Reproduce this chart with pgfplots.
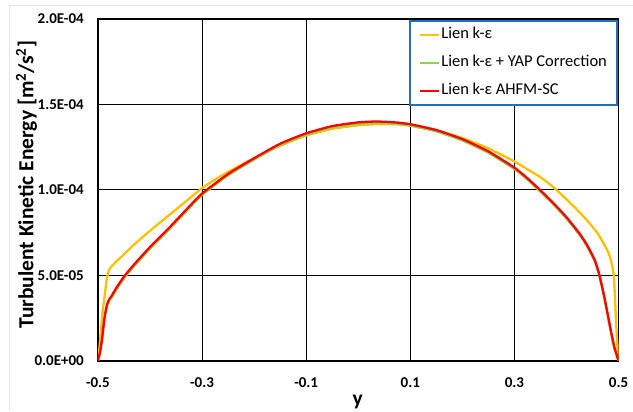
\documentclass[border=0pt]{standalone}
\usepackage{pgfplots}
\pgfplotsset{compat=1.18}
\usepackage{fontspec}
\setmainfont{Carlito}
\definecolor{lorange}{HTML}{FFC000}
\definecolor{lgreen}{HTML}{92D050}
\definecolor{lred}{HTML}{FF0000}
\definecolor{lblue}{HTML}{1F6FBF}
\begin{document}
\begin{tikzpicture}[x=1pt,y=1pt]
\path (0,0) rectangle (633,411);
\draw[gray!20, line width=1pt] (10,0) -- (10,405) -- (633,405);
\begin{axis}[
  at={(98pt,50pt)}, anchor=south west,
  scale only axis, width=521pt, height=342pt,
  xmin=-0.5, xmax=0.5, ymin=0, ymax=2e-4,
  xtick={-0.5,-0.3,-0.1,0.1,0.3,0.5},
  xticklabels={-0.5,-0.3,-0.1,0.1,0.3,0.5},
  ytick={0,5e-5,1e-4,1.5e-4,2e-4},
  yticklabels={0.0E+00,5.0E-05,1.0E-04,1.5E-04,2.0E-04},
  scaled y ticks=false,
  major tick length=0pt,
  grid=major,
  grid style={black, line width=0.8pt},
  axis line style={black, line width=1.8pt},
  ticklabel style={font=\fontsize{15}{17}\selectfont\bfseries, inner sep=0pt},
  xticklabel style={anchor=base, yshift=-27pt},
  yticklabel style={anchor=east, xshift=-14pt},
  xlabel={\bfseries y},
  ylabel={\bfseries Turbulent Kinetic Energy [m\textsuperscript{2}/s\textsuperscript{2}]},
  label style={font=\fontsize{21.5}{24}\selectfont},
  xlabel style={at={(axis description cs:0.499,-0.12)}, anchor=center},
  ylabel style={at={(axis description cs:-0.137,0.515)}, anchor=center, rotate=0},
  legend style={at={(0.9985,0.997)}, anchor=north east, draw=lblue, line width=1.8pt,
    font=\fontsize{16.5}{18}\selectfont, row sep=12pt, inner xsep=9pt, inner ysep=6pt,
    fill=white, cells={anchor=west},
    nodes={inner sep=1pt, text height=11pt, text depth=3pt}},
  legend image code/.code={\draw[#1, line width=2.4pt] (0pt,0pt) -- (19pt,0pt);},
  every axis plot/.append style={line width=2.3pt, smooth, tension=0.3},
  clip=true,
]
\addplot[lorange] coordinates {
(-0.5,0) (-0.497,0.8e-5) (-0.494,1.8e-5) (-0.491,2.9e-5) (-0.4866,3.9e-5) (-0.4833,4.75e-5)
(-0.4795,5.25e-5) (-0.476,5.45e-5) (-0.47,5.65e-5) (-0.4578,6.0e-5) (-0.4322,6.75e-5)
(-0.4002,7.6e-5) (-0.35,8.85e-5) (-0.3,1.01e-4) (-0.275,1.06e-4) (-0.253,1.1e-4)
(-0.2,1.185e-4) (-0.15,1.258e-4) (-0.1,1.318e-4) (-0.05,1.357e-4) (0,1.378e-4)
(0.035,1.384e-4) (0.07,1.384e-4) (0.1,1.376e-4) (0.15,1.347e-4) (0.2,1.303e-4)
(0.25,1.243e-4) (0.3,1.166e-4) (0.35,1.074e-4) (0.375,1.015e-4) (0.4,9.45e-5)
(0.42,8.85e-5) (0.44,8.2e-5) (0.46,7.45e-5) (0.4795,6.4e-5) (0.486,5.8e-5)
(0.491,5.0e-5) (0.493,3.8e-5) (0.495,2.5e-5) (0.497,1.3e-5) (0.5,0)
};
\addlegendentry{Lien k-ε}
\addplot[lgreen] coordinates {
(-0.5,0) (-0.496,0.4e-5) (-0.4923,1.1e-5) (-0.4875,2.35e-5) (-0.4827,3.15e-5) (-0.478,3.52e-5)
(-0.474,3.68e-5) (-0.465,4.12e-5) (-0.455,4.6e-5) (-0.448,4.9e-5) (-0.43,5.55e-5)
(-0.4,6.55e-5) (-0.3656,7.6e-5) (-0.33,8.75e-5) (-0.3,9.7e-5) (-0.25,1.085e-4)
(-0.2,1.177e-4) (-0.15,1.262e-4) (-0.1,1.323e-4) (-0.05,1.365e-4) (0,1.387e-4)
(0.035,1.392e-4) (0.07,1.387e-4) (0.1,1.376e-4) (0.15,1.342e-4) (0.2,1.289e-4)
(0.25,1.217e-4) (0.3,1.122e-4) (0.325,1.06e-4) (0.35,0.989e-4) (0.375,0.914e-4)
(0.4,0.832e-4) (0.425,0.737e-4) (0.44,0.667e-4) (0.455,0.577e-4) (0.4635,0.492e-4)
(0.473,0.362e-4) (0.48,0.252e-4) (0.486,0.157e-4) (0.492,0.072e-4) (0.5,0)
};
\addlegendentry{Lien k-ε + YAP Correction}
\addplot[lred] coordinates {
(-0.5,0) (-0.496,0.5e-5) (-0.4923,1.23e-5) (-0.4875,2.5e-5) (-0.4827,3.27e-5) (-0.478,3.62e-5)
(-0.474,3.78e-5) (-0.465,4.25e-5) (-0.455,4.7e-5) (-0.448,5.0e-5) (-0.43,5.65e-5)
(-0.4,6.65e-5) (-0.3656,7.7e-5) (-0.33,8.85e-5) (-0.3,9.78e-5) (-0.25,1.093e-4)
(-0.2,1.185e-4) (-0.15,1.27e-4) (-0.1,1.331e-4) (-0.05,1.373e-4) (0,1.395e-4)
(0.035,1.4e-4) (0.07,1.395e-4) (0.1,1.384e-4) (0.15,1.35e-4) (0.2,1.297e-4)
(0.25,1.225e-4) (0.3,1.13e-4) (0.325,1.068e-4) (0.35,0.997e-4) (0.375,0.922e-4)
(0.4,0.84e-4) (0.425,0.745e-4) (0.44,0.675e-4) (0.455,0.585e-4) (0.4635,0.5e-4)
(0.473,0.37e-4) (0.48,0.26e-4) (0.486,0.165e-4) (0.492,0.08e-4) (0.5,0)
};
\addlegendentry{Lien k-ε AHFM-SC}
\end{axis}
\end{tikzpicture}
\end{document}
